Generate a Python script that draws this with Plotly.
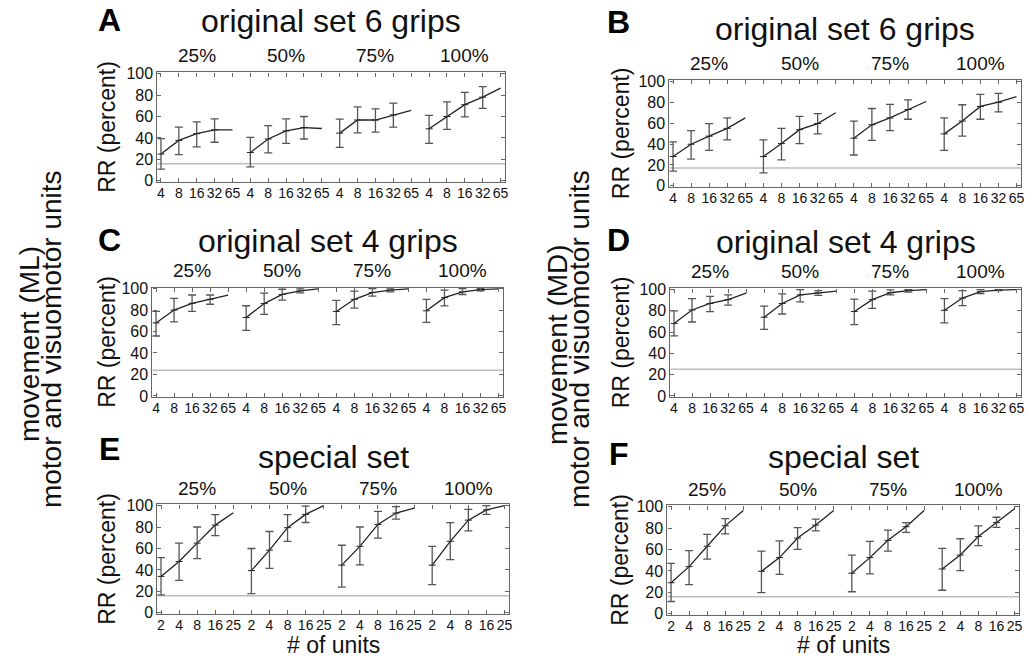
import plotly.graph_objects as go

W, H = 1035, 663
FONT = "Liberation Sans, Arial, Helvetica, sans-serif"

# ---- data -------------------------------------------------------------
groups = ["25%", "50%", "75%", "100%"]
units_orig = ["4", "8", "16", "32", "65"]
units_special = ["2", "4", "8", "16", "25"]

letters = ["A", "B", "C", "D", "E", "F"]
titles = ["original set 6 grips", "original set 6 grips",
          "original set 4 grips", "original set 4 grips",
          "special set", "special set"]
chance = [16, 17, 24, 25, 16, 16]

# recognition rate (mean) per group; error bar upper / lower bounds
A_mean = [[25, 37.7, 44, 47.5, 47.5], [26.4, 39, 46.6, 49.7, 48.8],
          [44.5, 56.7, 56.7, 61.5, 65.8], [48.5, 60, 71, 78, 86.4]]
A_hi = [[39.3, 50, 55, 57.7], [40.5, 51.5, 57.7, 60],
        [57.6, 69, 67, 72.4], [61, 73.6, 82.4, 87.9]]
A_lo = [[11, 24.5, 31.6, 36], [13, 26, 35, 39],
        [31.2, 44.8, 45.5, 50], [35, 47.9, 59.7, 67.6]]

B_mean = [[28, 39.8, 47.5, 55, 65], [28, 40.4, 53.7, 59.6, 70],
          [45.6, 58.4, 65, 73, 80.7], [49.7, 62, 76, 80, 85.4]]
B_hi = [[42, 52.8, 59.6, 65], [44, 55, 66.5, 69],
        [62, 74, 78, 82.3], [65, 77.6, 87.6, 88.5]]
B_lo = [[14, 25.5, 34, 44], [12.4, 24.8, 40.4, 49.7],
        [29.5, 43.5, 52.8, 63.7], [34, 47.5, 63.7, 70.8]]

C_mean = [[68, 80, 86.3, 90, 94], [73, 86, 94.5, 97.9, 99.7],
          [78.7, 90, 96.3, 98.5, 99.7], [79.3, 91.5, 97, 99, 99.7]]
C_hi = [[78.7, 90.9, 94, 94], [84, 95.7, 99.4, 99.7],
        [89, 97.6, 100, 99.7], [90, 98.5, 100, 100]]
C_lo = [[55.8, 69, 78.7, 85.4], [61, 76, 89.3, 96],
        [66.5, 81.7, 93, 97], [68.6, 83.8, 94.5, 98]]

D_mean = [[68, 80.8, 86.9, 90.5, 96.6], [74, 86.9, 95, 97, 98.5],
          [79.3, 90.5, 97, 99, 100], [80.5, 92, 98, 99.5, 100]]
D_hi = [[79.9, 91.5, 93.6, 95], [84.5, 96, 100, 99],
        [90.9, 98.5, 99.7, 100], [91.5, 99, 100, 100]]
D_lo = [[56.4, 69.5, 79.3, 85.4], [62.5, 77, 88.4, 94.5],
        [67, 82.3, 95, 97.5], [68.6, 84.8, 96.3, 99]]

E_mean = [[34, 47.9, 65, 81.8, 93.3], [39.4, 58.5, 79.4, 91.8, 100],
          [44.5, 62, 82.4, 93, 97.6], [44.5, 66.7, 86.4, 96, 100]]
E_hi = [[51.5, 65, 80, 91.5], [60, 75.8, 91.5, 99.4],
        [63, 80, 94.5, 99], [62, 84, 96.4, 100]]
E_lo = [[16.7, 30.3, 50.6, 72], [18, 41.5, 66.7, 84.2],
        [24, 44.8, 69.7, 87.3], [26.4, 49.7, 76.4, 91.8]]

F_mean = [[29, 44, 63, 82, 96.4], [39.7, 52.4, 70.6, 82.7, 96.4],
          [37.9, 52.4, 68.5, 81.2, 96.4], [41.8, 54.8, 72, 85, 98]]
F_hi = [[47, 59, 74, 88.8], [58.5, 68, 80.3, 88.2],
        [54.8, 67.6, 78, 85], [61, 70, 82, 90]]
F_lo = [[11.5, 27.3, 51, 74.5], [19.7, 36.7, 60, 77.3],
        [20.6, 37.3, 58.5, 76], [22, 40.3, 63.6, 80.6]]

panels = [
    (A_mean, A_hi, A_lo, units_orig),
    (B_mean, B_hi, B_lo, units_orig),
    (C_mean, C_hi, C_lo, units_orig),
    (D_mean, D_hi, D_lo, units_orig),
    (E_mean, E_hi, E_lo, units_special),
    (F_mean, F_hi, F_lo, units_special),
]

# ---- layout geometry (pixels: left, right, top, bottom of each axes box) ----
boxes = [
    (158, 507, 67, 179),
    (672, 1025, 75, 184),
    (153, 505, 287, 399),
    (673, 1025, 288, 399),
    (158, 511, 509, 621),
    (670, 1023, 510, 622),
]
title_y = [14, 23, 239, 240, 460, 460]      # vertical centre of title text
letter_y = [13, 15, 238, 238, 452, 457]     # vertical centre of panel letter
group_y = [17, 17, 17, 17, 16, 16]          # group label offset above each box
XR = [-0.2, 19.25]
YR = [-1, 101]

LINE = "#222222"
ERR = "#555555"
FRAME = "#666666"
CHANCE = "#bdbdbd"


def px(x):
    return x / W


def py(y):
    return 1 - y / H


fig = go.Figure()
layout = {}
annotations = []

for i, (mean, hi, lo, units) in enumerate(panels):
    n = "" if i == 0 else str(i + 1)
    xa, ya = "x" + n, "y" + n
    x0, x1, y0, y1 = boxes[i]

    # chance level
    fig.add_trace(go.Scatter(x=XR, y=[chance[i], chance[i]], xaxis=xa, yaxis=ya,
                             mode="lines", line=dict(color=CHANCE, width=1.5),
                             hoverinfo="skip", showlegend=False))

    for g in range(len(groups)):
        xs = [g * 5 + k for k in range(len(units))]
        fig.add_trace(go.Scatter(x=xs, y=mean[g], xaxis=xa, yaxis=ya,
                                 mode="lines", line=dict(color=LINE, width=1.3),
                                 showlegend=False))
        m4 = mean[g][:len(hi[g])]
        fig.add_trace(go.Scatter(
            x=xs[:len(hi[g])], y=m4, xaxis=xa, yaxis=ya, mode="markers",
            marker=dict(symbol="line-ew", size=5, line=dict(width=1, color=LINE)),
            error_y=dict(type="data", symmetric=False,
                         array=[h - m for h, m in zip(hi[g], m4)],
                         arrayminus=[m - l for m, l in zip(m4, lo[g])],
                         color=ERR, thickness=1.3, width=4),
            showlegend=False))
        annotations.append(dict(text=groups[g], x=g * 5 + 2, xref=xa,
                                y=py(y0 - group_y[i]), yref="paper",
                                showarrow=False, xanchor="center",
                                yanchor="middle",
                                font=dict(size=19, color="#111", family=FONT)))

    common = dict(ticks="inside", ticklen=4, tickwidth=1, tickcolor=FRAME,
                  showline=True, linecolor=FRAME, linewidth=1.2, mirror="ticks",
                  showgrid=False, zeroline=False, fixedrange=True, tickangle=0)
    layout["xaxis" + n] = dict(domain=[px(x0), px(x1)], range=XR, anchor=ya,
                               tickmode="array", tickvals=list(range(20)),
                               ticktext=units * 4, ticklabelstandoff=-2,
                               tickfont=dict(size=14, color="#111", family=FONT),
                               **common)
    layout["yaxis" + n] = dict(domain=[py(y1), py(y0)], range=YR, anchor=xa,
                               tickmode="array", tickvals=[0, 20, 40, 60, 80, 100],
                               tickfont=dict(size=16, color="#111", family=FONT),
                               **common)

    cx = (x0 + x1) / 2
    annotations.append(dict(text=titles[i], x=px(cx), y=py(title_y[i]),
                            xref="paper", yref="paper", showarrow=False,
                            xanchor="center", yanchor="middle",
                            font=dict(size=32, color="#111", family=FONT)))
    lx = 110 if i % 2 == 0 else 621
    annotations.append(dict(text="<b>" + letters[i] + "</b>", x=px(lx),
                            y=py(letter_y[i]), xref="paper", yref="paper",
                            showarrow=False, xanchor="center", yanchor="middle",
                            font=dict(size=32, color="#000", family=FONT)))
    rx = 108 if i % 2 == 0 else 623
    annotations.append(dict(text="RR (percent)", x=px(rx), y=py((y0 + y1) / 2),
                            xref="paper", yref="paper", showarrow=False,
                            textangle=-90, xanchor="center", yanchor="middle",
                            font=dict(size=23, color="#111", family=FONT)))
    if i >= 4:
        annotations.append(dict(text="# of units", x=px(cx), y=py(653),
                                xref="paper", yref="paper", showarrow=False,
                                xanchor="center", yanchor="middle",
                                font=dict(size=23, color="#111", family=FONT)))

# side labels for each column
for xc, line1 in ((29, "movement (ML)"), (559, "movement (MD)")):
    annotations.append(dict(text=line1, x=px(xc), y=py(345), xref="paper",
                            yref="paper", showarrow=False, textangle=-90,
                            xanchor="center", yanchor="middle",
                            font=dict(size=28, color="#111", family=FONT)))
    annotations.append(dict(text="motor and visuomotor units", x=px(xc + 23),
                            y=py(340), xref="paper", yref="paper",
                            showarrow=False, textangle=-90, xanchor="center",
                            yanchor="middle",
                            font=dict(size=28, color="#111", family=FONT)))

fig.update_layout(width=W, height=H, margin=dict(l=0, r=0, t=0, b=0),
                  paper_bgcolor="white", plot_bgcolor="white",
                  showlegend=False, annotations=annotations, **layout)

fig.write_html("out.html", config={"displayModeBar": False})
